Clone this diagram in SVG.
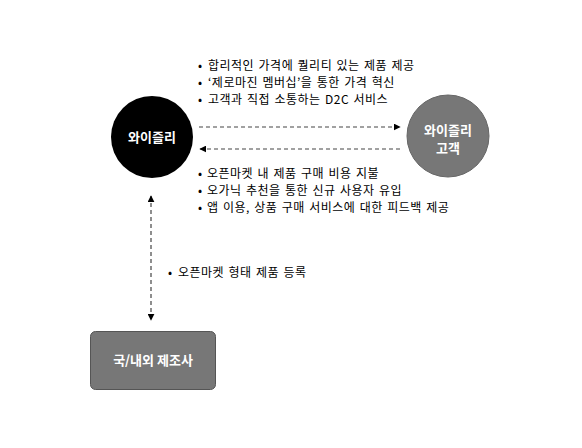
<svg xmlns="http://www.w3.org/2000/svg" width="582" height="448" viewBox="0 0 582 448">
<defs>
<style>
.t{font-family:"Noto Sans CJK KR","Liberation Sans",sans-serif;font-size:12px;letter-spacing:0.5px;word-spacing:1.2px;fill:#000}
.lbl{font-family:"Noto Sans CJK KR","Liberation Sans",sans-serif;font-size:13px;font-weight:bold;fill:#fff;text-anchor:middle}
.dash{stroke:#444;stroke-width:1.2;stroke-dasharray:4 3;fill:none}
</style>
<marker id="ah" viewBox="0 0 10 10" refX="9" refY="5" markerWidth="7" markerHeight="7" orient="auto-start-reverse" markerUnits="userSpaceOnUse">
<path d="M0,0 L10,5 L0,10 z" fill="#000"/>
</marker>
</defs>
<rect width="582" height="448" fill="#fff"/>
<g id="connectors">
<line class="dash" x1="199" y1="127" x2="400" y2="127" marker-end="url(#ah)"/>
<line class="dash" x1="400" y1="149" x2="200" y2="149" marker-end="url(#ah)"/>
<line class="dash" x1="151" y1="196" x2="151" y2="320" marker-start="url(#ah)" marker-end="url(#ah)"/>
</g>
<g id="node-wisely">
<circle cx="152" cy="137" r="41" fill="#000"/>
<text class="lbl" x="152" y="142">와이즐리</text>
</g>
<g id="node-customer">
<circle cx="448" cy="136" r="41" fill="#777" stroke="#666" stroke-width="1"/>
<text class="lbl" x="448" y="135">와이즐리</text>
<text class="lbl" x="448" y="153">고객</text>
</g>
<g id="node-maker">
<rect x="90.5" y="331.5" width="125" height="58" rx="5" fill="#777" stroke="#555" stroke-width="1"/>
<text class="lbl" x="153" y="365">국/내외 제조사</text>
</g>
<g id="labels">
<text class="t" y="69.5"><tspan x="198">•</tspan><tspan x="208">합리적인 가격에 퀄리티 있는 제품 제공</tspan></text>
<text class="t" y="86.5"><tspan x="198">•</tspan><tspan x="208">‘제로마진 멤버십’을 통한 가격 혁신</tspan></text>
<text class="t" y="103.5"><tspan x="198">•</tspan><tspan x="208">고객과 직접 소통하는 D2C 서비스</tspan></text>
<text class="t" y="177.5"><tspan x="198">•</tspan><tspan x="207">오픈마켓 내 제품 구매 비용 지불</tspan></text>
<text class="t" y="194.5"><tspan x="198">•</tspan><tspan x="207">오가닉 추천을 통한 신규 사용자 유입</tspan></text>
<text class="t" y="211.5"><tspan x="198">•</tspan><tspan x="207">앱 이용, 상품 구매 서비스에 대한 피드백 제공</tspan></text>
<text class="t" y="277"><tspan x="168">•</tspan><tspan x="178">오픈마켓 형태 제품 등록</tspan></text>
</g>
</svg>
